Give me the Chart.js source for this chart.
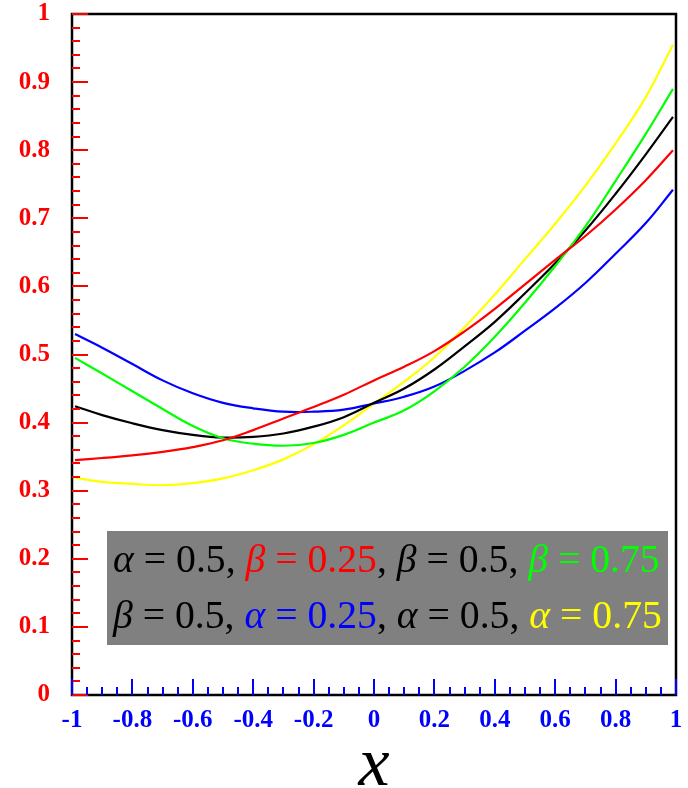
<!DOCTYPE html>
<html>
<head>
    <title>Curves</title>
    <script src="https://cdn.jsdelivr.net/npm/chart.js"></script>
    <style>
        body { margin: 0; background: #fff; }
        canvas { display: block; }
    </style>
</head>
<body>
    <canvas id="curveChart" width="688" height="788"></canvas>

    <script>
        // x positions where the curves were read
        const xValues = [-0.99, -0.9, -0.8, -0.7, -0.6, -0.5, -0.4, -0.3, -0.2, -0.1, 0,
                         0.1, 0.2, 0.3, 0.4, 0.5, 0.6, 0.7, 0.8, 0.9, 0.99];

        const redBeta025 = [0.345, 0.348, 0.352, 0.357, 0.364, 0.374, 0.389, 0.406, 0.423, 0.441, 0.462,
                            0.482, 0.505, 0.534, 0.567, 0.603, 0.639, 0.674, 0.713, 0.756, 0.800];
        const blackHalf = [0.424, 0.411, 0.399, 0.389, 0.382, 0.378, 0.379, 0.384, 0.394, 0.408, 0.429,
                           0.450, 0.478, 0.512, 0.548, 0.590, 0.634, 0.682, 0.736, 0.794, 0.849];
        const greenBeta075 = [0.495, 0.472, 0.446, 0.420, 0.395, 0.377, 0.369, 0.366, 0.370, 0.382, 0.400,
                              0.418, 0.446, 0.482, 0.526, 0.576, 0.630, 0.688, 0.755, 0.824, 0.890];
        const blueAlpha025 = [0.530, 0.510, 0.486, 0.462, 0.443, 0.429, 0.421, 0.416, 0.416, 0.419, 0.428,
                              0.438, 0.453, 0.476, 0.503, 0.535, 0.568, 0.605, 0.648, 0.693, 0.742];
        const yellowAlpha075 = [0.319, 0.313, 0.310, 0.308, 0.311, 0.318, 0.330, 0.346, 0.368, 0.396, 0.428,
                                0.460, 0.496, 0.540, 0.588, 0.640, 0.692, 0.748, 0.810, 0.878, 0.955];

        const xTickLabels = ['-1', '-0.8', '-0.6', '-0.4', '-0.2', '0', '0.2', '0.4', '0.6', '0.8', '1'];
        const yTickLabels = ['0', '0.1', '0.2', '0.3', '0.4', '0.5', '0.6', '0.7', '0.8', '0.9', '1'];

        // legend text pieces: [text, italic, colour]
        const legendLine1 = [
            ['α', true, '#000000'], [' = 0.5, ', false, '#000000'],
            ['β', true, '#ff0000'], [' = 0.25', false, '#ff0000'], [', ', false, '#000000'],
            ['β', true, '#000000'], [' = 0.5, ', false, '#000000'],
            ['β', true, '#00ff00'], [' = 0.75', false, '#00ff00']
        ];
        const legendLine2 = [
            ['β', true, '#000000'], [' = 0.5, ', false, '#000000'],
            ['α', true, '#0000ff'], [' = 0.25', false, '#0000ff'], [', ', false, '#000000'],
            ['α', true, '#000000'], [' = 0.5, ', false, '#000000'],
            ['α', true, '#ffff00'], [' = 0.75', false, '#ffff00']
        ];

        function toPoints(ys) {
            return ys.map((y, i) => ({ x: xValues[i], y: y }));
        }

        function curve(label, ys, color) {
            return {
                label: label,
                data: toPoints(ys),
                borderColor: color,
                borderWidth: 2.2,
                pointRadius: 0,
                fill: false,
                tension: 0.4
            };
        }

        // frame, inward ticks, legend box and axis title
        const decorations = {
            id: 'decorations',
            beforeDatasetsDraw(chart) {
                const ctx = chart.ctx;
                const a = chart.chartArea;
                ctx.save();
                ctx.strokeStyle = '#000';
                ctx.lineWidth = 2.5;
                ctx.strokeRect(a.left, a.top, a.right - a.left, a.bottom - a.top);
                ctx.restore();
            },
            afterDraw(chart) {
                const ctx = chart.ctx;
                const a = chart.chartArea;
                const xs = chart.scales.x;
                const ys = chart.scales.y;
                ctx.save();

                // y ticks (red), major every 0.1, minor every 0.02
                ctx.strokeStyle = '#ff0000';
                ctx.lineWidth = 2;
                for (let i = 0; i <= 50; i++) {
                    const py = Math.round(ys.getPixelForValue(i / 50));
                    const len = i % 5 === 0 ? 16 : 8;
                    ctx.beginPath();
                    ctx.moveTo(a.left, py);
                    ctx.lineTo(a.left + len, py);
                    ctx.stroke();
                }

                // x ticks (blue), major every 0.2, minor every 0.05
                ctx.strokeStyle = '#0000ff';
                for (let i = 0; i <= 40; i++) {
                    const px = Math.round(xs.getPixelForValue(-1 + i / 20));
                    const len = i % 4 === 0 ? 16 : 8;
                    ctx.beginPath();
                    ctx.moveTo(px, a.bottom);
                    ctx.lineTo(px, a.bottom - len);
                    ctx.stroke();
                }

                // legend box
                ctx.fillStyle = '#808080';
                ctx.fillRect(107, 531, 561, 114);

                const family = '"Liberation Serif", "DejaVu Serif", serif';
                function lineWidth(parts, size) {
                    let w = 0;
                    parts.forEach(p => {
                        ctx.font = (p[1] ? 'italic ' : '') + size + 'px ' + family;
                        w += ctx.measureText(p[0]).width;
                    });
                    return w;
                }
                const size = 100 * 547 / lineWidth(legendLine1, 100);
                function drawLine(parts, x, y) {
                    ctx.textBaseline = 'alphabetic';
                    ctx.textAlign = 'left';
                    parts.forEach(p => {
                        ctx.font = (p[1] ? 'italic ' : '') + size + 'px ' + family;
                        ctx.fillStyle = p[2];
                        ctx.fillText(p[0], x, y);
                        x += ctx.measureText(p[0]).width;
                    });
                }
                drawLine(legendLine1, 113, 572);
                drawLine(legendLine2, 113, 628);

                // axis title
                ctx.font = 'italic 70px ' + family;
                ctx.fillStyle = '#000';
                ctx.textAlign = 'center';
                ctx.textBaseline = 'alphabetic';
                ctx.fillText('x', (a.left + a.right) / 2, 785);

                ctx.restore();
            }
        };

        const tickFont = { family: '"Liberation Serif", "DejaVu Serif", serif', size: 25, weight: 'bold' };

        new Chart(document.getElementById('curveChart').getContext('2d'), {
            type: 'line',
            data: {
                datasets: [
                    curve('α = 0.5, β = 0.25', redBeta025, '#ff0000'),
                    curve('α = 0.5, β = 0.75', greenBeta075, '#00ff00'),
                    curve('α = 0.5, β = 0.5', blackHalf, '#000000'),
                    curve('β = 0.5, α = 0.25', blueAlpha025, '#0000ff'),
                    curve('β = 0.5, α = 0.75', yellowAlpha075, '#ffff00')
                ]
            },
            options: {
                responsive: false,
                animation: false,
                layout: { padding: { top: 14, right: 12, left: 0, bottom: 0 } },
                plugins: {
                    legend: { display: false },
                    tooltip: { enabled: false }
                },
                scales: {
                    x: {
                        type: 'linear',
                        min: -1,
                        max: 1,
                        grid: { display: false, drawTicks: false },
                        border: { display: false },
                        afterFit(scale) {
                            scale.height = 93;
                            scale.paddingLeft = 0;
                            scale.paddingRight = 0;
                        },
                        ticks: {
                            stepSize: 0.2,
                            autoSkip: false,
                            maxRotation: 0,
                            padding: 11,
                            color: '#0000ff',
                            font: tickFont,
                            callback: (value, index) => xTickLabels[index]
                        }
                    },
                    y: {
                        min: 0,
                        max: 1,
                        grid: { display: false, drawTicks: false },
                        border: { display: false },
                        afterFit(scale) {
                            scale.width = 72;
                            scale.paddingTop = 0;
                            scale.paddingBottom = 0;
                        },
                        ticks: {
                            stepSize: 0.1,
                            autoSkip: false,
                            padding: 22,
                            color: '#ff0000',
                            font: tickFont,
                            callback: (value, index) => yTickLabels[index]
                        }
                    }
                }
            },
            plugins: [decorations]
        });
    </script>
</body>
</html>
